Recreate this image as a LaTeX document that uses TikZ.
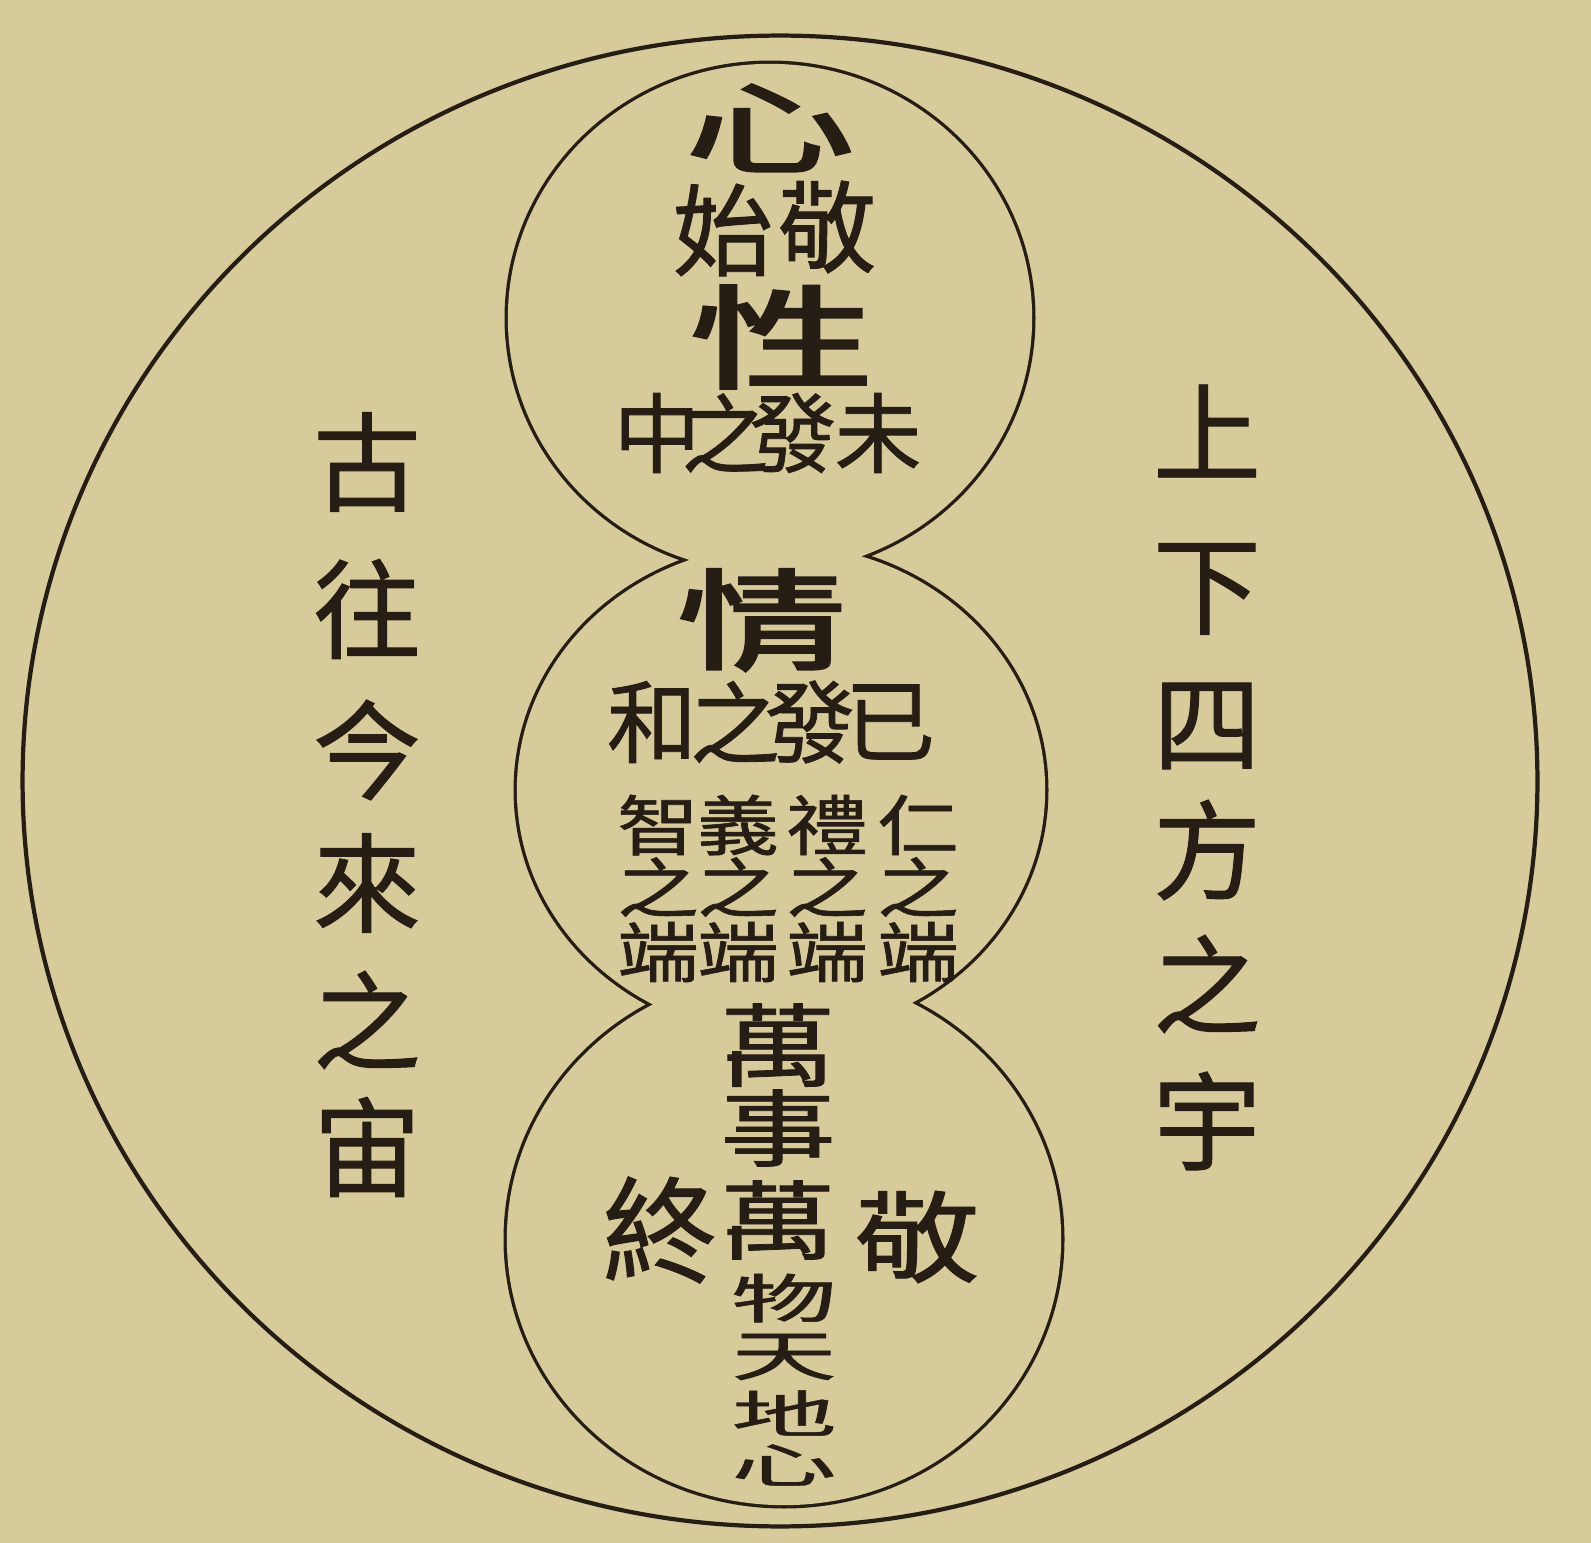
\documentclass[tikz,border=0pt]{standalone}
\usepackage{fontspec}
\usepackage{graphicx}
\newfontfamily\cjk[FakeBold=0.9]{Noto Sans CJK TC}
\newfontfamily\cjkheavy[FakeBold=2.2]{Noto Sans CJK TC}
\definecolor{paper}{RGB}{215,203,155}
\definecolor{ink}{RGB}{38,30,20}
\newcommand{\fsz}[1]{\fontsize{#1}{#1}\selectfont}
\newcommand{\sq}[3]{\scalebox{#1}[#2]{#3}}
\begin{document}
\begin{tikzpicture}[x=0.01cm,y=-0.01cm,
  glyph/.style={text=ink, inner sep=0pt, anchor=center},
  side/.style={glyph, font=\cjk\fsz{30.7}},
  big/.style={glyph, font=\cjkheavy\fsz{42}},
  mid/.style={glyph, font=\cjk\fsz{28.5}},
  small/.style={glyph, font=\cjk\fsz{24.7}},
  tiny/.style={glyph, font=\cjk\fsz{23.3}},
  lower/.style={glyph, font=\cjk\fsz{33}},
  outer/.style={draw=ink, line width=1.2pt},
  lobeline/.style={draw=ink, line width=1.9pt},
  lobefill/.style={fill=paper}]
\useasboundingbox (0,0) rectangle (1591,1543);
\fill[paper] (0,0) rectangle (1591,1543);
% outer circle
\path[outer] (780,781) ellipse [x radius=7.57cm, y radius=7.45cm];
% gourd: union outline of three lobes
\path[lobeline] (770,318) ellipse [x radius=2.62cm, y radius=2.54cm]
                (781,790) ellipse [x radius=2.64cm, y radius=2.45cm]
                (784,1239) ellipse [x radius=2.77cm, y radius=2.66cm];
\path[lobefill] (770,318) ellipse [x radius=2.62cm, y radius=2.54cm]
                (781,790) ellipse [x radius=2.64cm, y radius=2.45cm]
                (784,1239) ellipse [x radius=2.77cm, y radius=2.66cm];
% left column
\foreach \c/\y [count=\i] in {古/462,往/609,今/750,來/883,之/1020,宙/1147}
  \node[side] (L\i) at (367,\y) {\c};
% right column
\foreach \c/\y [count=\i] in {上/431,下/589,四/726,方/850,之/984,宇/1121}
  \node[side] (R\i) at (1207,\y) {\c};
% top lobe
\node[glyph, font=\cjkheavy\fsz{46}] (xin) at (770,128) {\sq{1.05}{0.62}{心}};
\node[mid] (shi) at (723,230) {始};
\node[mid] (jing1) at (827,227) {敬};
\node[big] (xing) at (782,337) {\sq{1.25}{0.76}{性}};
\node[small] (t1) at (657,433) {中};
\node[small] (t2) at (725,433) {之};
\node[small] (t3) at (793,433) {發};
\node[small] (t4) at (878,433) {未};
% middle lobe
\node[big] (qing) at (762,620) {\sq{1.15}{0.74}{情}};
\node[glyph, font=\cjk\fsz{25.6}] (m1) at (652,722) {和};
\node[glyph, font=\cjk\fsz{25.6}] (m2) at (735,722) {之};
\node[glyph, font=\cjk\fsz{25.6}] (m3) at (810,722) {發};
\node[glyph, font=\cjk\fsz{25.6}] (m4) at (890,722) {已};
\foreach \c/\x/\n in {智/658/a,義/738/b,禮/827/c,仁/918/d}{
  \node[tiny] (\n1) at (\x,825) {\sq{1}{0.8}{\c}};
  \node[tiny] (\n2) at (\x,887) {\sq{1}{0.8}{之}};
  \node[tiny] (\n3) at (\x,952) {\sq{1}{0.8}{端}};
}
% bottom lobe
\node[lower] (b1) at (778,1045) {\sq{1}{0.78}{萬}};
\node[lower] (b2) at (778,1128) {\sq{1}{0.72}{事}};
\node[lower] (b3) at (778,1220) {\sq{1}{0.74}{萬}};
\node[glyph, font=\cjk\fsz{30}] (b4) at (784,1298) {\sq{1}{0.5}{物}};
\node[glyph, font=\cjk\fsz{30}] (b5) at (784,1357) {\sq{1}{0.52}{天}};
\node[glyph, font=\cjk\fsz{30}] (b6) at (784,1413) {\sq{1}{0.48}{地}};
\node[glyph, font=\cjk\fsz{30}] (b7) at (784,1465) {\sq{1}{0.45}{心}};
\node[glyph, font=\cjk\fsz{32.7}] (zhong) at (660,1230) {終};
\node[glyph, font=\cjk\fsz{36.4}] (jing2) at (917,1237) {\sq{1}{0.78}{敬}};
\end{tikzpicture}
\end{document}
